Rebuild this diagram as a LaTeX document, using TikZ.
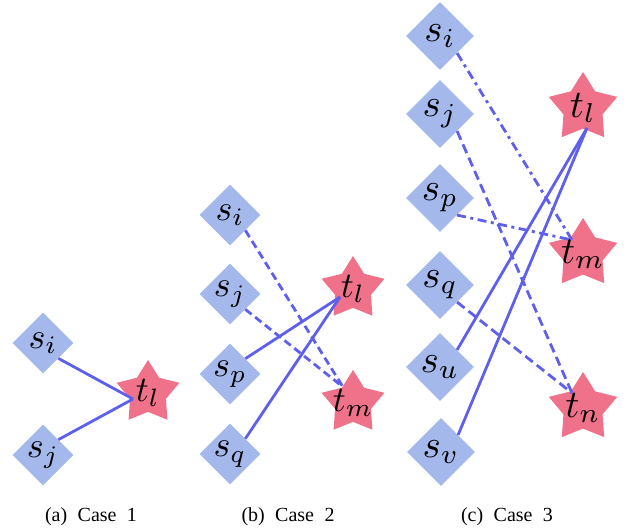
\documentclass[tikz,border=0pt]{standalone}
\usepackage{graphicx}
\usepackage{fontspec}
\newfontfamily\capfont{Liberation Serif}
\usetikzlibrary{shapes.geometric}
\definecolor{dblue}{RGB}{164,184,236}
\definecolor{spink}{RGB}{240,114,138}
\definecolor{eblue}{RGB}{95,95,238}
\newcommand{\lbl}[1]{\scalebox{3.6}{\fontsize{10}{12}\selectfont$#1$}}
\newcommand{\lblbig}[1]{\scalebox{3.9}{\fontsize{10}{12}\selectfont$#1$}}
\newcommand{\captxt}[1]{{\capfont\fontsize{20}{24}\selectfont\spaceskip=0.52em plus 0.1em\relax #1}}
\tikzset{
  srcnode/.style={diamond, fill=dblue, inner sep=0pt, minimum width=61pt, minimum height=61pt},
  srcbig/.style={srcnode, minimum width=68pt, minimum height=68pt},
  tgtnode/.style={star, star points=5, star point ratio=1.75, fill=spink, inner sep=0pt, minimum size=66pt},
  tgtbig/.style={tgtnode, minimum size=72pt},
  tgttext/.style={inner sep=0pt},
  link/.style={draw=eblue, line width=2.8pt},
  dashlink/.style={link, dash pattern=on 8pt off 4.5pt},
  dashlinkbig/.style={link, dash pattern=on 9.5pt off 5pt},
  dotdashlink/.style={link, dash pattern=on 9pt off 4.5pt on 3pt off 4.5pt},
  captext/.style={anchor=base}
}
\begin{document}
\begin{tikzpicture}[x=1pt,y=-1pt]
\useasboundingbox (0,0) rectangle (628,527);
% ---------- Case 1
\node[srcnode] (a-si) at (43,343) {\lbl{s_i}};
\node[srcnode] (a-sj) at (43,455) {\lbl{s_j}};
\node[tgtnode] (a-tl) at (148,393) {};
\node[tgttext] (a-tl-t) at (a-tl.center) {\lbl{t_l}};
\coordinate (a-tl-in) at (133,399);
\draw[link] (a-si.south east) -- (a-tl-in);
\draw[link] (a-sj.north east) -- (a-tl-in);
\node[captext] (a-cap) at (91,521) {\captxt{(a) Case 1}};
% ---------- Case 2
\node[srcnode] (b-si) at (230,215) {\lbl{s_i}};
\node[srcnode] (b-sj) at (230,294) {\lbl{s_j}};
\node[srcnode] (b-sp) at (230,374) {\lbl{s_p}};
\node[srcnode] (b-sq) at (230,454) {\lbl{s_q}};
\node[tgtnode] (b-tl) at (353,289) {};
\node[tgttext] (b-tl-t) at (b-tl.center) {\lbl{t_l}};
\node[tgtnode] (b-tm) at (353,403) {};
\node[tgttext] (b-tm-t) at (b-tm.center) {\lbl{t_m}};
\coordinate (b-tl-in) at (340,297);
\coordinate (b-tm-in) at (343,387);
\draw[dashlink] (b-si.south east) -- (b-tm-in);
\draw[dashlink] (b-sj.south east) -- (b-tm-in);
\draw[link] (b-sp.north east) -- (b-tl-in);
\draw[link] (b-sq.north east) -- (b-tl-in);
\node[captext] (b-cap) at (288,521) {\captxt{(b) Case 2}};
% ---------- Case 3
\node[srcbig] (c-si) at (440,36) {\lblbig{s_i}};
\node[srcbig] (c-sj) at (440,114) {\lblbig{s_j}};
\node[srcbig] (c-sp) at (440,198) {\lblbig{s_p}};
\node[srcbig] (c-sq) at (440,285) {\lblbig{s_q}};
\node[srcbig] (c-su) at (440,367) {\lblbig{s_u}};
\node[srcbig] (c-sv) at (441,452) {\lblbig{s_v}};
\node[tgtbig] (c-tl) at (583,108) {};
\node[tgttext] (c-tl-t) at (c-tl.center) {\lblbig{t_l}};
\node[tgtbig] (c-tm) at (583,254) {};
\node[tgttext] (c-tm-t) at (c-tm.center) {\lblbig{t_m}};
\node[tgtbig] (c-tn) at (583,408) {};
\node[tgttext] (c-tn-t) at (c-tn.center) {\lblbig{t_n}};
\coordinate (c-tl-in) at (587,128);
\coordinate (c-tm-in) at (572,240);
\coordinate (c-tn-in) at (572,393);
\draw[dotdashlink] (c-si.south east) -- (c-tm-in);
\draw[dotdashlink] (c-sp.south east) -- (c-tm-in);
\draw[dashlinkbig] (c-sj.south east) -- (c-tn-in);
\draw[dashlinkbig] (c-sq.south east) -- (c-tn-in);
\draw[link] (c-su.north east) -- (c-tl-in);
\draw[link] (c-sv.north east) -- (c-tl-in);
\node[captext] (c-cap) at (507,521) {\captxt{(c) Case 3}};
\end{tikzpicture}
\end{document}
